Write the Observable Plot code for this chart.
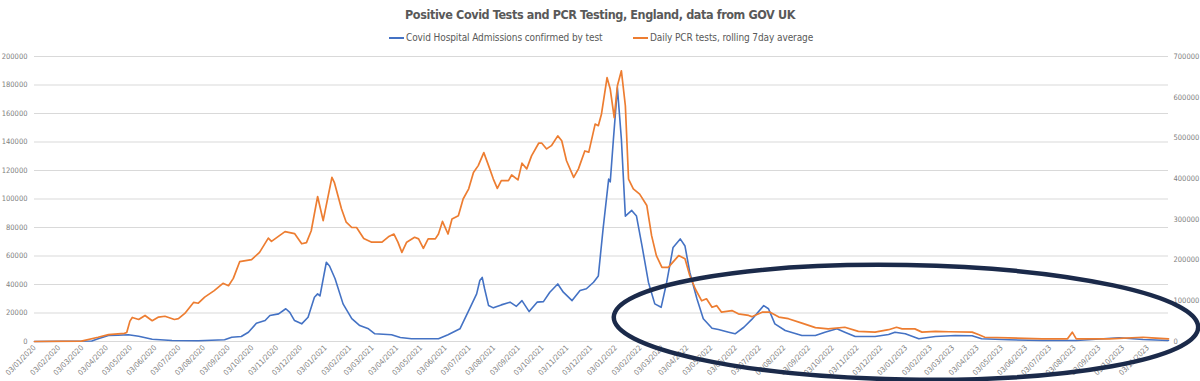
<!DOCTYPE html>
<html><head><meta charset="utf-8">
<script src="https://cdn.jsdelivr.net/npm/d3@7"></script>
<script src="https://cdn.jsdelivr.net/npm/@observablehq/plot@0.6"></script>
<style>
body{margin:0;background:#fff;width:1200px;height:381px;overflow:hidden;position:relative;font-family:"Liberation Sans Narrow","Arial Narrow","DejaVu Sans Condensed",sans-serif;}
#title{position:absolute;left:0;top:7px;width:1200px;text-align:center;font-weight:bold;font-size:12.5px;letter-spacing:-0.4px;color:#595959;}
#legend{position:absolute;top:32px;left:0;width:1200px;height:14px;font-size:10px;letter-spacing:-0.1px;color:#595959;}
.item{position:absolute;top:0;display:flex;align-items:center;white-space:nowrap;}
.sw{display:inline-block;width:15px;height:2px;margin-right:2px;}
#chart{position:absolute;left:0;top:48px;}
#chart svg{overflow:visible}
</style></head><body>
<div id="title">Positive Covid Tests and PCR Testing, England, data from GOV UK</div>
<div id="legend">
  <div class="item" style="left:389px"><span class="sw" style="background:#4472C4"></span>Covid Hospital Admissions confirmed by test</div>
  <div class="item" style="left:633px"><span class="sw" style="background:#ED7D31"></span>Daily PCR tests, rolling 7day average</div>
</div>
<div id="chart"></div>
<script>
const seriesNames = ["Covid Hospital Admissions confirmed by test", "Daily PCR tests, rolling 7day average"];
const leftTicks = [0,20000,40000,60000,80000,100000,120000,140000,160000,180000,200000];
const rightTicks = [0,100000,200000,300000,400000,500000,600000,700000];
const xTickLabels = ["03/01/2020","03/02/2020","03/03/2020","03/04/2020","03/05/2020","03/06/2020","03/07/2020","03/08/2020","03/09/2020","03/10/2020","03/11/2020","03/12/2020",
"03/01/2021","03/02/2021","03/03/2021","03/04/2021","03/05/2021","03/06/2021","03/07/2021","03/08/2021","03/09/2021","03/10/2021","03/11/2021","03/12/2021",
"03/01/2022","03/02/2022","03/03/2022","03/04/2022","03/05/2022","03/06/2022","03/07/2022","03/08/2022","03/09/2022","03/10/2022","03/11/2022","03/12/2022",
"03/01/2023","03/02/2023","03/03/2023","03/04/2023","03/05/2023","03/06/2023","03/07/2023","03/08/2023","03/09/2023","03/10/2023","03/11/2023"];
const xStartLabel = "2020-01-03";
const xEndLabel = "2023-11-29";

const blueDates = ["2020-01-03","2020-03-15","2020-03-23","2020-04-05","2020-04-17","2020-04-30","2020-05-13","2020-05-30","2020-06-24","2020-07-27","2020-08-29","2020-09-07","2020-09-19","2020-09-28","2020-10-08","2020-10-19","2020-10-25","2020-11-05","2020-11-14","2020-11-19","2020-11-25","2020-12-04","2020-12-12","2020-12-20","2020-12-24","2020-12-27","2021-01-04","2021-01-08","2021-01-15","2021-01-25","2021-02-05","2021-02-15","2021-02-26","2021-03-06","2021-03-27","2021-04-07","2021-04-21","2021-05-25","2021-06-06","2021-06-21","2021-07-02","2021-07-12","2021-07-16","2021-07-19","2021-07-22","2021-07-27","2021-08-02","2021-08-12","2021-08-23","2021-08-31","2021-09-07","2021-09-16","2021-09-26","2021-10-04","2021-10-12","2021-10-22","2021-10-29","2021-11-09","2021-11-19","2021-11-27","2021-12-06","2021-12-12","2021-12-18","2021-12-25","2021-12-27","2021-12-31","2022-01-05","2022-01-10","2022-01-15","2022-01-23","2022-01-29","2022-02-05","2022-02-13","2022-02-21","2022-03-01","2022-03-08","2022-03-16","2022-03-25","2022-03-31","2022-04-06","2022-04-15","2022-04-23","2022-05-04","2022-05-12","2022-05-25","2022-06-02","2022-06-13","2022-06-23","2022-07-08","2022-07-14","2022-07-22","2022-08-04","2022-08-25","2022-09-11","2022-09-23","2022-10-08","2022-10-18","2022-10-31","2022-11-25","2022-12-12","2022-12-20","2023-01-02","2023-01-19","2023-02-09","2023-03-06","2023-03-27","2023-04-08","2023-05-12","2023-06-23","2023-08-05","2023-09-28","2023-10-28","2023-11-29"];
const blueValues = [0,300,1900,4200,4400,4700,3700,1600,700,500,1200,3000,3500,6500,12800,14700,18200,19400,23000,20500,14700,12400,17000,31000,33400,32000,55600,53000,44000,26400,16000,11200,8900,5400,4700,2800,1900,1900,4700,8900,21700,33400,42800,45000,37000,25200,23600,25700,27600,24700,28700,21000,27600,28000,34600,40400,34600,28700,35800,37000,41600,46000,79000,114000,112000,142000,178000,142000,88000,92000,88000,67000,41600,26400,24000,41600,66000,72000,67000,48600,30000,16000,9300,8400,6500,5400,10000,15500,25200,23000,12400,7700,4200,4200,6500,8900,6500,3500,3500,4900,6500,5400,1900,3500,4200,4000,1900,1200,700,700,2600,1400,700];

const orangeDates = ["2020-01-03","2020-03-02","2020-03-23","2020-04-05","2020-04-25","2020-04-28","2020-05-02","2020-05-05","2020-05-13","2020-05-21","2020-05-30","2020-06-07","2020-06-15","2020-06-27","2020-07-02","2020-07-10","2020-07-21","2020-07-27","2020-08-04","2020-08-16","2020-08-27","2020-09-03","2020-09-09","2020-09-17","2020-10-02","2020-10-12","2020-10-23","2020-10-27","2020-11-13","2020-11-25","2020-12-04","2020-12-10","2020-12-16","2020-12-24","2020-12-31","2021-01-11","2021-01-14","2021-01-23","2021-01-29","2021-02-05","2021-02-11","2021-02-20","2021-03-02","2021-03-15","2021-03-23","2021-03-30","2021-04-04","2021-04-09","2021-04-15","2021-04-25","2021-04-30","2021-05-06","2021-05-12","2021-05-21","2021-05-25","2021-05-30","2021-06-06","2021-06-11","2021-06-19","2021-06-25","2021-07-02","2021-07-08","2021-07-14","2021-07-21","2021-07-27","2021-08-02","2021-08-07","2021-08-12","2021-08-21","2021-08-25","2021-09-02","2021-09-07","2021-09-13","2021-09-19","2021-09-28","2021-10-02","2021-10-08","2021-10-14","2021-10-22","2021-10-27","2021-11-02","2021-11-11","2021-11-17","2021-11-25","2021-11-30","2021-12-08","2021-12-12","2021-12-16","2021-12-23","2021-12-27","2022-01-01","2022-01-05","2022-01-10","2022-01-15","2022-01-19","2022-01-25","2022-02-02","2022-02-11","2022-02-17","2022-02-23","2022-03-02","2022-03-10","2022-03-23","2022-03-31","2022-04-06","2022-04-13","2022-04-21","2022-04-27","2022-05-04","2022-05-10","2022-05-16","2022-05-29","2022-06-06","2022-06-19","2022-06-23","2022-07-06","2022-07-16","2022-07-27","2022-08-08","2022-08-25","2022-09-11","2022-09-27","2022-10-18","2022-11-04","2022-11-25","2022-12-12","2022-12-22","2022-12-29","2023-01-14","2023-01-23","2023-02-09","2023-02-26","2023-03-27","2023-04-04","2023-04-12","2023-05-12","2023-06-23","2023-07-25","2023-07-31","2023-08-05","2023-09-16","2023-10-28","2023-11-08","2023-11-29"];
const orangeValues = [0,1000,10500,17000,20000,22000,50000,59000,54000,64000,51000,60000,62000,54000,56000,69000,96000,94000,109000,125000,143000,137000,155000,196000,201000,219000,254000,246000,270000,265000,240000,243000,272000,356000,297000,403000,391000,326000,293000,280000,280000,253000,244000,244000,257000,264000,244000,219000,244000,256000,252000,229000,252000,252000,264000,295000,264000,301000,309000,350000,375000,415000,432000,464000,432000,399000,376000,395000,395000,409000,397000,438000,424000,456000,487000,487000,473000,481000,505000,493000,444000,403000,424000,468000,465000,534000,530000,559000,648000,620000,550000,628000,665000,579000,399000,375000,362000,334000,260000,211000,182000,182000,211000,203000,162000,129000,100000,105000,84000,88000,72000,76000,68000,64000,61000,72000,72000,60000,56000,45000,34000,31000,35000,25000,23000,29000,35000,31000,31000,23000,25000,24000,23000,17000,10500,9000,6500,6500,23000,6500,6500,10500,9000,6500];

// annotation ellipse extents (in chart data units, left axis)
const ellipseDates = ["2022-01-01","2024-01-06"];
const ellipseValues = [-27000, 53300];

const parseISO = d3.utcParse("%Y-%m-%d");
const parseLabel = d3.utcParse("%d/%m/%Y");
const fmt = d3.utcFormat("%d/%m/%Y");
const blue = blueDates.map((d,i)=>({date:parseISO(d), value:blueValues[i]}));
const orange = orangeDates.map((d,i)=>({date:parseISO(d), value:orangeValues[i]}));
const xTicks = xTickLabels.map(parseLabel);
const xStart = parseISO(xStartLabel), xEnd = parseISO(xEndLabel);
const ratio = leftTicks[leftTicks.length-1] / rightTicks[rightTicks.length-1];
const font = '"Liberation Sans Narrow","Arial Narrow","DejaVu Sans Condensed",sans-serif';

const chart = Plot.plot({
  width: 1200, height: 333,
  marginTop: 8, marginBottom: 40, marginLeft: 34, marginRight: 32,
  style: {fontFamily: font, fontSize: "7.5px", color: "#808080", background: "transparent"},
  x: {type: "utc", domain: [xStart, xEnd]},
  y: {domain: [0, 200000]},
  marks: [
    Plot.ruleY(leftTicks, {stroke: "#d9d9d9", strokeWidth: 1}),
    Plot.axisY(leftTicks, {tickSize: 0, tickPadding: 7, tickFormat: d => String(d), fill: "#808080", label: null}),
    Plot.text(rightTicks, {x: () => xEnd, y: d => d * ratio, text: d => String(d), textAnchor: "start", dx: 5, fill: "#808080"}),
    Plot.axisX(xTicks, {tickRotate: -45, tickFormat: fmt, tickSize: 0, tickPadding: 5, label: null, fill: "#808080"}),
    Plot.lineY(blue, {x: "date", y: "value", stroke: "#4472C4", strokeWidth: 1.6}),
    Plot.lineY(orange, {x: "date", y: d => d.value * ratio, stroke: "#ED7D31", strokeWidth: 1.7})
  ]
});
document.getElementById("chart").appendChild(chart);

// map annotation extents through the chart's scales (linear extrapolation)
const sx = chart.scale("x"), sy = chart.scale("y");
const t0 = +xStart, t1 = +xEnd, px0 = sx.apply(xStart), px1 = sx.apply(xEnd);
const xPix = d => px0 + (+parseISO(d) - t0) / (t1 - t0) * (px1 - px0);
const py0 = sy.apply(0), py1 = sy.apply(200000);
const yPix = v => py0 + v / 200000 * (py1 - py0);
const x1 = xPix(ellipseDates[0]), x2 = xPix(ellipseDates[1]);
const y1 = yPix(ellipseValues[1]), y2 = yPix(ellipseValues[0]);
const cx = (x1 + x2) / 2, cy = (y1 + y2) / 2;
d3.select(chart).append("ellipse")
  .attr("cx", cx).attr("cy", cy)
  .attr("rx", (x2 - x1) / 2).attr("ry", (y2 - y1) / 2)
  .attr("transform", `rotate(1 ${cx} ${cy})`)
  .attr("fill", "none").attr("stroke", "#1b2a4a").attr("stroke-width", 4.5);
</script>
</body></html>
